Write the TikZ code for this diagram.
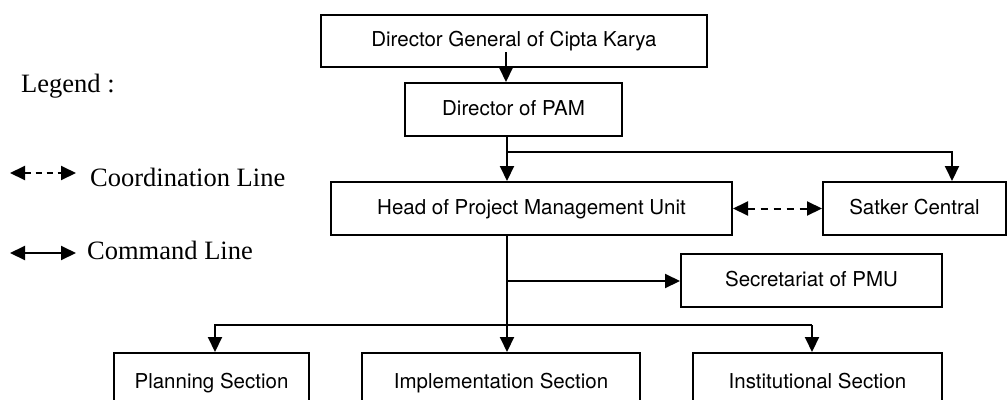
\documentclass[tikz,border=0pt]{standalone}
\usepackage{fontspec}
\setmainfont{Liberation Serif}
\newfontfamily\boxfont{TeX Gyre Heros}
\usetikzlibrary{arrows.meta}
\tikzset{
  unitbox/.style={draw, line width=2pt, rectangle, inner sep=0pt,
    text height=15pt, text depth=4pt,
    font=\boxfont\fontsize{20.5}{24}\selectfont},
  tip/.tip={Triangle[length=15pt,width=14pt]},
  cmd/.style={line width=2pt, -tip},
  coord/.style={line width=2pt, dash pattern=on 7pt off 6pt, tip-tip},
  legtext/.style={font=\fontsize{26.5}{30}\selectfont, anchor=west, inner sep=0pt},
}
\begin{document}
\begin{tikzpicture}[x=1pt, y=-1pt]
\useasboundingbox (0,0) rectangle (1008,399);
\clip (0,0) rectangle (1008,399);

% organisation units
\node[unitbox, minimum width=386pt, minimum height=52pt] (dg)   at (514,41)    {Director General of Cipta Karya};
\node[unitbox, minimum width=217pt, minimum height=53pt] (pam)  at (513.5,109.5) {Director of PAM};
\node[unitbox, minimum width=401pt, minimum height=53pt] (head) at (531.5,208.5) {Head of Project Management Unit};
\node[unitbox, minimum width=183pt, minimum height=53pt] (sat)  at (914.5,208.5) {Satker Central};
\node[unitbox, minimum width=261pt, minimum height=53pt] (sec)  at (811.5,280.5) {Secretariat of PMU};
\node[unitbox, minimum width=195pt, minimum height=60pt] (plan) at (211.5,383)   {Planning Section};
\node[unitbox, minimum width=278pt, minimum height=60pt] (impl) at (501,383)     {Implementation Section};
\node[unitbox, minimum width=249pt, minimum height=60pt] (inst) at (817.5,383)   {Institutional Section};

% command lines
\coordinate (s0) at (506,52);
\draw[cmd] (s0) -- (s0 |- pam.north);
\coordinate (s1) at (507,136);
\coordinate (b1) at (507,152);
\draw[cmd] (s1 |- pam.south) -- (s1 |- head.north);
\coordinate (b1r) at (952,152);
\draw[cmd] (b1) -- (b1r) -- (b1r |- sat.north);

\coordinate (s2) at (507,235);
\draw[cmd] (s2 |- head.south) -- (s2 |- impl.north);
\coordinate (b2) at (507,281);
\draw[cmd] (b2) -- (b2 -| sec.west);
\coordinate (b3l) at (215,325);
\coordinate (b3r) at (812,325);
\draw[cmd] (b3r) -- (b3r |- inst.north);
\draw[cmd] (b3r) -- (b3l) -- (b3l |- plan.north);

% coordination line
\draw[coord] (head.east) -- (sat.west);

% legend
\node[legtext] (leg) at (21,86) {Legend :};
\coordinate (c1a) at (10,173);
\coordinate (c1b) at (76,173);
\draw[coord, dash pattern=on 6pt off 5pt] (c1a) -- (c1b);
\node[legtext] (ltc) at (90,177) {Coordination Line};
\coordinate (c2a) at (10,253);
\coordinate (c2b) at (76,253);
\draw[line width=2pt, tip-tip] (c2a) -- (c2b);
\node[legtext] (ltm) at (87,250) {Command Line};
\end{tikzpicture}
\end{document}
